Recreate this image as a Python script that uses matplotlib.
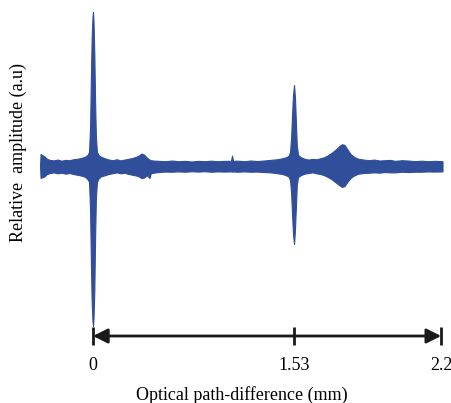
import numpy as np
import matplotlib.pyplot as plt

plt.rcParams['font.family'] = ['Liberation Serif', 'DejaVu Serif']

# envelope of the interferogram
# position (mm, scan axis), upper and lower envelope (relative amplitude)
pos = [-0.403, -0.399, -0.39, -0.37, -0.35, -0.33, -0.30, -0.27, -0.24, -0.21,
       -0.18, -0.15, -0.12, -0.09, -0.06, -0.04,
       -0.030, -0.022, -0.016, -0.010, -0.004, 0.0, 0.004, 0.010, 0.016, 0.022, 0.030,
       0.04, 0.06, 0.09, 0.12, 0.15, 0.18, 0.21, 0.24, 0.27, 0.30, 0.33, 0.35,
       0.37, 0.39, 0.41, 0.43, 0.44, 0.46, 0.50, 0.55, 0.60, 0.65, 0.70, 0.75,
       0.80, 0.85, 0.90, 0.95, 1.00, 1.05, 1.058, 1.066, 1.10, 1.15, 1.20, 1.25,
       1.30, 1.35, 1.40, 1.44, 1.47, 1.49,
       1.500, 1.508, 1.515, 1.522, 1.530, 1.537, 1.544, 1.551, 1.560,
       1.58, 1.61, 1.64, 1.67, 1.70, 1.73, 1.76, 1.79, 1.82, 1.85, 1.875, 1.895,
       1.915, 1.935, 1.96, 1.99, 2.02, 2.06, 2.10, 2.14, 2.18, 2.22, 2.26, 2.30,
       2.35, 2.40, 2.45, 2.50, 2.55, 2.60, 2.66]
upper = [0.0, 0.075, 0.070, 0.060, 0.045, 0.038, 0.035, 0.040, 0.033, 0.038,
         0.036, 0.042, 0.045, 0.050, 0.058, 0.070,
         0.090, 0.250, 0.550, 0.800, 0.930, 0.962, 0.900, 0.700, 0.400, 0.180, 0.090,
         0.070, 0.058, 0.048, 0.040, 0.036, 0.042, 0.035, 0.040, 0.045, 0.050, 0.058, 0.066,
         0.078, 0.070, 0.052, 0.040, 0.036, 0.034, 0.032, 0.030, 0.034, 0.030, 0.032, 0.028,
         0.032, 0.030, 0.033, 0.030, 0.032, 0.032, 0.065, 0.032, 0.033, 0.030, 0.034, 0.031,
         0.034, 0.038, 0.042, 0.048, 0.055, 0.065,
         0.090, 0.180, 0.320, 0.440, 0.506, 0.430, 0.280, 0.130, 0.070,
         0.055, 0.045, 0.040, 0.044, 0.042, 0.048, 0.055, 0.068, 0.085, 0.105, 0.125, 0.136,
         0.131, 0.105, 0.075, 0.055, 0.045, 0.040, 0.036, 0.040, 0.034, 0.036, 0.038, 0.032,
         0.036, 0.034, 0.030, 0.033, 0.030, 0.032, 0.030]
lower = [0.0, -0.075, -0.072, -0.065, -0.050, -0.045, -0.040, -0.046, -0.042, -0.048,
         -0.044, -0.050, -0.055, -0.060, -0.068, -0.085,
         -0.100, -0.280, -0.600, -0.850, -0.970, -1.000, -0.950, -0.780, -0.450, -0.200, -0.100,
         -0.080, -0.065, -0.058, -0.050, -0.045, -0.040, -0.046, -0.042, -0.050, -0.055, -0.060, -0.066,
         -0.076, -0.072, -0.058, -0.075, -0.045, -0.042, -0.038, -0.035, -0.036, -0.034, -0.036, -0.033,
         -0.035, -0.033, -0.036, -0.034, -0.035, -0.034, -0.036, -0.034, -0.036, -0.034, -0.036, -0.035,
         -0.038, -0.040, -0.045, -0.050, -0.058, -0.068,
         -0.090, -0.170, -0.300, -0.420, -0.488, -0.400, -0.260, -0.120, -0.070,
         -0.058, -0.048, -0.044, -0.040, -0.046, -0.050, -0.058, -0.070, -0.085, -0.105, -0.120, -0.131,
         -0.125, -0.100, -0.075, -0.058, -0.048, -0.044, -0.042, -0.040, -0.042, -0.038, -0.040, -0.040,
         -0.036, -0.038, -0.036, -0.036, -0.034, -0.035, -0.034]

tick_pos = [0.0, 1.53, 2.65]
tick_labels = ['0', '1.53', '2.2']

line_color = '#304E99'

fig = plt.figure(figsize=(4.51, 4.03), dpi=100)
ax = fig.add_axes([38 / 451, 67 / 403, 407 / 451, 331 / 403])

ax.fill_between(pos, lower, upper, color=line_color, lw=0.8, edgecolor=line_color)

ax.set_xlim(-0.4186, 2.679)
ax.set_ylim(-1.0625, 1.006)

for s in ax.spines.values():
    s.set_visible(False)
ax.set_yticks([])
ax.set_xticks(tick_pos, tick_labels)
ax.tick_params(axis='x', direction='inout', length=13, width=2, color='#1a1a1a',
               labelsize=13, pad=8.5)

# double-headed arrow along the axis
ax.annotate('', xy=(tick_pos[0], -1.0625), xytext=(tick_pos[-1], -1.0625),
            xycoords='data', annotation_clip=False,
            arrowprops=dict(arrowstyle='<|-|>', mutation_scale=22, lw=2,
                            color='#1a1a1a', shrinkA=0, shrinkB=0))

ax.set_xlabel('Optical path-difference (mm)', fontsize=13, labelpad=9)
fig.text(18 / 451, 1 - 152 / 403, 'Relative  amplitude (a.u)', rotation=90,
         ha='center', va='center', fontsize=13)

fig.savefig('out.png', dpi=100)
